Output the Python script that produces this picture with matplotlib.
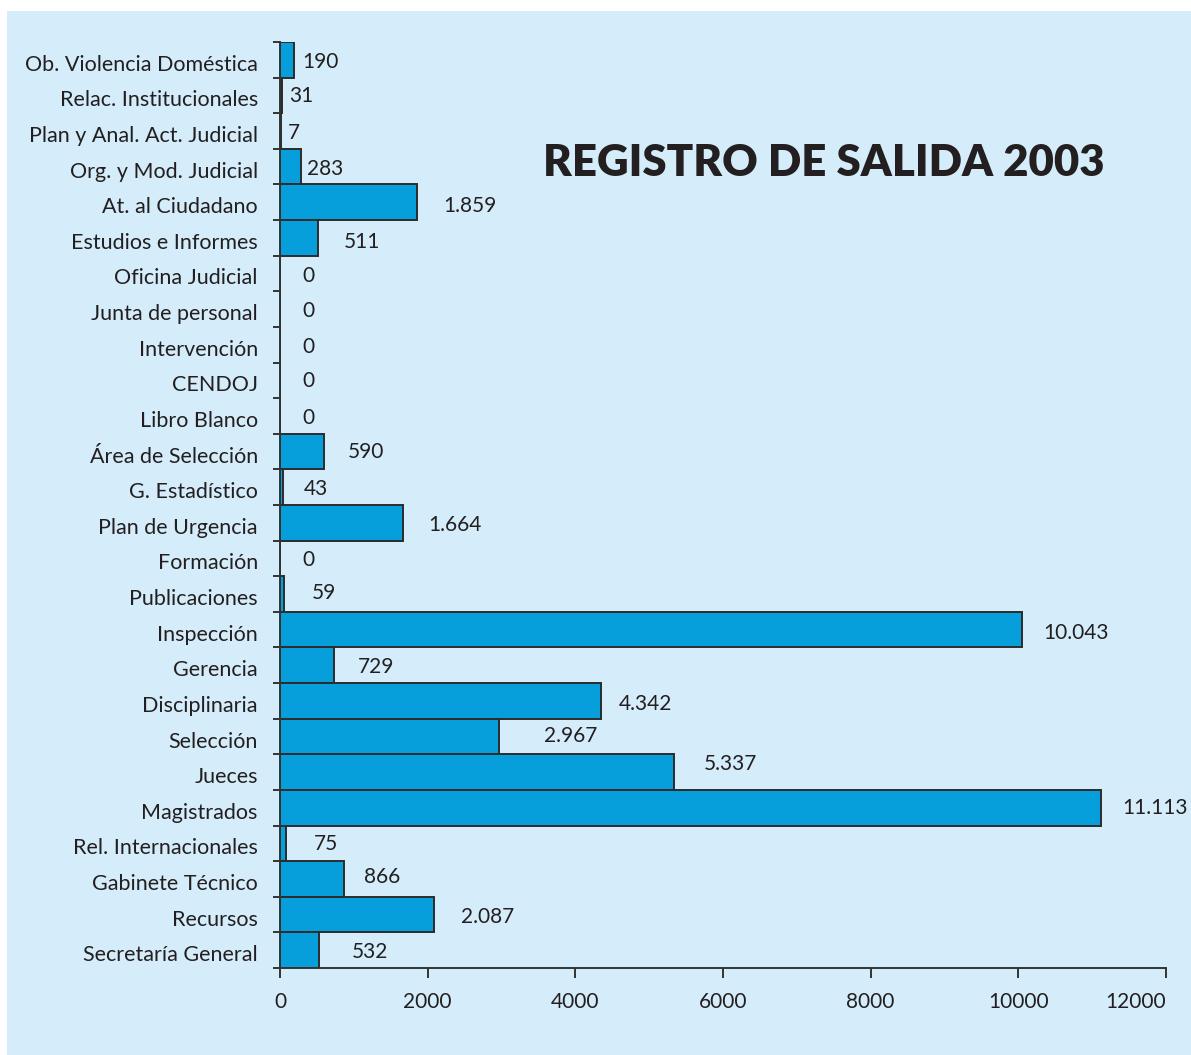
import numpy as np
import matplotlib
matplotlib.use('Agg')
from matplotlib import pyplot as plt
from matplotlib.patches import Rectangle
from matplotlib.transforms import ScaledTranslation

plt.rcParams['font.family'] = ['Lato', 'DejaVu Sans']

# categories, top to bottom
areas = ['Ob. Violencia Doméstica', 'Relac. Institucionales', 'Plan y Anal. Act. Judicial',
         'Org. y Mod. Judicial', 'At. al Ciudadano', 'Estudios e Informes',
         'Oficina Judicial', 'Junta de personal', 'Intervención', 'CENDOJ',
         'Libro Blanco', 'Área de Selección', 'G. Estadístico', 'Plan de Urgencia',
         'Formación', 'Publicaciones', 'Inspección', 'Gerencia', 'Disciplinaria',
         'Selección', 'Jueces', 'Magistrados', 'Rel. Internacionales',
         'Gabinete Técnico', 'Recursos', 'Secretaría General']
salida = [190, 31, 7, 283, 1859, 511, 0, 0, 0, 0, 0, 590, 43, 1664, 0, 59,
          10043, 729, 4342, 2967, 5337, 11113, 75, 866, 2087, 532]
xticks = [0, 2000, 4000, 6000, 8000, 10000, 12000]

# hand placed value labels (offset from bar end, pixels)
lab_dx = [26, 19, 13, 24, 53, 44, 28, 28, 28, 28, 28, 42, 33, 52, 28, 40,
          55, 42, 45, 72, 56, 55, 40, 38, 54, 51]
lab_dy = [0, 1, 0, 0, -2, -2, 0, 0, 0, 1, 0, 2, 0, 0, 0, 3,
          -1, 0, -1, 3, 10, 2, 1, 4, 0, 0]

def fmt(v):
    return '{:,}'.format(v).replace(',', '.')

ink = '#231f20'
bg = '#d5edfa'

fig = plt.figure(figsize=(11.91, 10.55), dpi=100, facecolor='white')
fig.patches.append(Rectangle((7/1191., 0), 1., 1 - 11/1055., transform=fig.transFigure,
                             facecolor=bg, edgecolor='none', zorder=-10))
ax = fig.add_axes([280/1191., 1 - 968/1055., 886/1191., 926/1055.])
ax.set_facecolor('none')

y = np.arange(len(areas))
ax.barh(y, salida, height=1.0, color='#069fdb', edgecolor='#2b2b2b', linewidth=1.4, zorder=2)
for i, v in enumerate(salida):
    ax.annotate(fmt(v), (v, i), xytext=(lab_dx[i]*0.72, (lab_dy[i] - 2)*0.72),
                textcoords='offset points', ha='center', va='center',
                fontsize=15, color=ink)

ax.set_xlim(0, 12000)
ax.set_ylim(len(areas) - 0.5, -0.5)
ax.set_xticks(xticks)
ax.set_xticklabels([str(t) for t in xticks], fontsize=15, color=ink)
ax.get_xticklabels()[-1].set_ha('right')
ax.tick_params(axis='x', direction='out', length=7, width=1.4, color='#333333', pad=10)

# boundary ticks on the y axis, labels on the bar centres
ax.set_yticks(np.arange(len(areas) + 1) - 0.5)
ax.set_yticklabels([])
ax.tick_params(axis='y', which='major', direction='out', length=5, width=1.4, color='#333333')
ax.set_yticks(y, minor=True)
ax.set_yticklabels(areas, minor=True, fontsize=15.5, color=ink)
ax.tick_params(axis='y', which='minor', length=0, pad=16)
shift = ScaledTranslation(0, -3/100., fig.dpi_scale_trans)
for t in ax.get_yticklabels(minor=True):
    t.set_transform(t.get_transform() + shift)

for s in ['top', 'right']:
    ax.spines[s].set_visible(False)
for s in ['left', 'bottom']:
    ax.spines[s].set_color('#333333')
    ax.spines[s].set_linewidth(1.4)

fig.text(824/1191., 1 - 163/1055., 'REGISTRO DE SALIDA 2003', ha='center', va='center',
         fontsize=31.5, fontweight='heavy', color=ink)

plt.savefig('out.png', dpi=100, facecolor=fig.get_facecolor())
